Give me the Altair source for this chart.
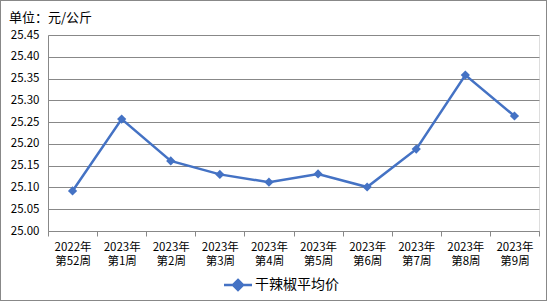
import altair as alt
import pandas as pd

weeks = ["2022年\n第52周", "2023年\n第1周", "2023年\n第2周", "2023年\n第3周", "2023年\n第4周",
         "2023年\n第5周", "2023年\n第6周", "2023年\n第7周", "2023年\n第8周", "2023年\n第9周"]
prices = [25.092, 25.257, 25.161, 25.130, 25.112, 25.131, 25.101, 25.188, 25.358, 25.264]
series_name = "干辣椒平均价"

df = pd.DataFrame({"week": weeks, "price": prices, "series": [series_name] * len(weeks)})

FONT = "Noto Sans CJK SC"
BLUE = "#4472C4"
GRID = "#888888"

x = alt.X("week:N", sort=None, title=None,
          scale=alt.Scale(type="band", paddingInner=0, paddingOuter=0),
          axis=alt.Axis(labelAngle=0, labelExpr="split(datum.label, '\\n')",
                        tickBand="extent", ticks=True, tickSize=5, tickColor=GRID,
                        domainColor=GRID, labelFont=FONT, labelFontSize=11.5,
                        labelColor="black", labelPadding=5, labelLineHeight=14))
y = alt.Y("price:Q", title=None,
          scale=alt.Scale(domain=[25.00, 25.45], nice=False, zero=False),
          axis=alt.Axis(values=[25.00, 25.05, 25.10, 25.15, 25.20, 25.25, 25.30, 25.35, 25.40, 25.45],
                        format=".2f", ticks=False, gridColor=GRID, domainColor=GRID,
                        labelFont=FONT, labelFontSize=11.5, labelColor="black", labelPadding=9))

color = alt.Color("series:N", scale=alt.Scale(range=[BLUE]),
                  legend=alt.Legend(title=None, orient="none", legendX=183, legendY=243,
                                    symbolType="M-2.8,0L2.8,0M0,-1L1,0L0,1L-1,0Z",
                                    symbolSize=100, symbolStrokeWidth=2.5,
                                    symbolFillColor=BLUE, symbolStrokeColor=BLUE,
                                    labelFont=FONT, labelFontSize=14, labelColor="black",
                                    labelOffset=10, padding=0))

line = alt.Chart(df).mark_line(strokeWidth=2.5).encode(x=x, y=y, color=color)
pts = alt.Chart(df).mark_point(shape="diamond", filled=True, size=85, opacity=1).encode(x=x, y=y, color=color)

frame = alt.Chart(df).mark_rect(fill=None, stroke=GRID, strokeWidth=1).encode(
    x=alt.value(-47.5), x2=alt.value(498.5), y=alt.value(-34.5), y2=alt.value(265.5))

chart = alt.layer(line, pts, frame).properties(
    width=491, height=196,
    title=alt.TitleParams(text="单位：元/公斤", anchor="start", frame="group", dx=-39, dy=31, offset=0,
                          baseline="middle", font=FONT, fontSize=13, fontWeight="normal", color="black"),
    padding={"left": 48, "top": 35, "right": 9, "bottom": 71},
    autosize=alt.AutoSizeParams(type="none"),
).configure_view(stroke=None).configure(background="white")

chart.save("out.html", embed_options={"renderer": "svg", "actions": False})
